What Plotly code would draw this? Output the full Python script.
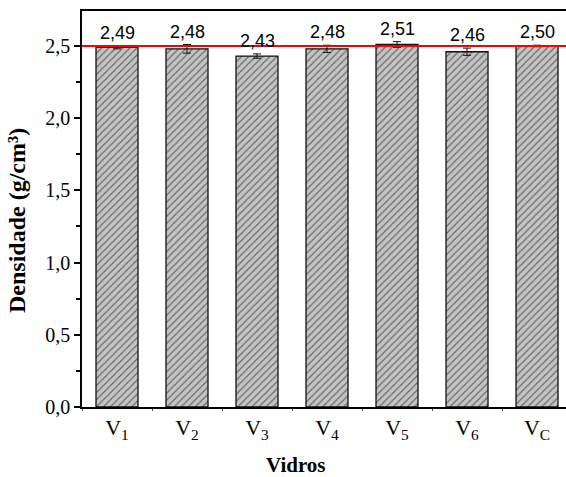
import plotly.graph_objects as go

categories = ["V<sub>1</sub>", "V<sub>2</sub>", "V<sub>3</sub>", "V<sub>4</sub>",
              "V<sub>5</sub>", "V<sub>6</sub>", "V<sub>C</sub>"]
density = [2.49, 2.48, 2.43, 2.48, 2.51, 2.46, 2.50]
errors = [0.01, 0.03, 0.015, 0.025, 0.02, 0.025, 0.005]
labels = ["2,49", "2,48", "2,43", "2,48", "2,51", "2,46", "2,50"]
reference_value = 2.5
x_title = "<b>Vidros</b>"
y_title = "<b>Densidade (g/cm³)</b>"

fig = go.Figure()
fig.add_trace(go.Bar(
    x=categories, y=density, width=0.6,
    marker=dict(color="#c4c4c4",
                line=dict(color="#111111", width=1.3),
                pattern=dict(shape="/", fgcolor="#111111", bgcolor="#c4c4c4",
                             size=5, solidity=0.25)),
    error_y=dict(type="data", array=errors, visible=True, color="#111111",
                 thickness=1, width=4),
    showlegend=False,
))

for c, v, e, t in zip(categories, density, errors, labels):
    fig.add_annotation(x=c, y=v + e, text=t, showarrow=False, yanchor="bottom",
                       yshift=1, font=dict(family="Liberation Sans", size=18, color="black"))

fig.add_shape(type="line", xref="paper", x0=0, x1=1, yref="y",
              y0=reference_value, y1=reference_value,
              line=dict(color="red", width=2))

# axis titles placed as annotations (paper coordinates)
fig.add_annotation(xref="paper", yref="paper", x=0.442, y=-0.147, text=x_title,
                   showarrow=False, xanchor="center", yanchor="middle",
                   font=dict(family="Liberation Serif", size=21, color="black"))
fig.add_annotation(xref="paper", yref="paper", x=-0.134, y=0.47, text=y_title,
                   showarrow=False, xanchor="center", yanchor="middle", textangle=-90,
                   font=dict(family="Liberation Serif", size=24, color="black"))

fig.update_layout(
    width=566, height=477,
    margin=dict(l=82, r=0, t=11, b=70),
    paper_bgcolor="white", plot_bgcolor="white",
    separators=", ",
    bargap=0.4,
    font=dict(family="Liberation Serif", color="black"),
)
fig.update_xaxes(
    range=[-0.5, 6.414],
    showline=True, linecolor="black", linewidth=1.5,
    mirror=True,
    ticks="outside", ticklen=2, tickcolor="#555555", tickson="boundaries",
    tickfont=dict(family="Liberation Serif", size=22),
    showgrid=False,
)
fig.update_yaxes(
    range=[0, 2.742],
    tickvals=[0, 0.5, 1.0, 1.5, 2.0, 2.5],
    tickformat=".1f",
    showline=True, linecolor="black", linewidth=1.5,
    ticks="outside", ticklen=6, tickwidth=1.5, tickcolor="black",
    minor=dict(tickvals=[0.25, 0.75, 1.25, 1.75, 2.25], ticks="outside", ticklen=4,
               tickwidth=1.5, tickcolor="black"),
    tickfont=dict(family="Liberation Serif", size=20),
    showgrid=False, zeroline=False,
)

fig.write_html("out.html")
